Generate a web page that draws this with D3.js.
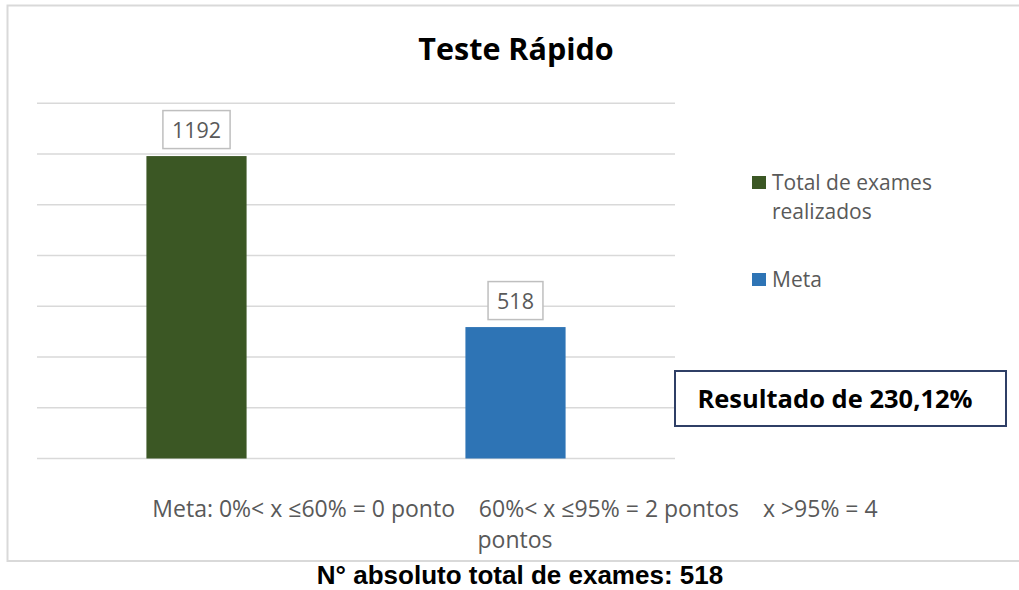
<!DOCTYPE html>
<html><head><meta charset="utf-8">
<script src="https://cdn.jsdelivr.net/npm/d3@7"></script>
<style>body{margin:0;background:#fff;} svg{display:block;}</style>
</head><body>
<script>
const categories = ["Total de exames realizados", "Meta"];
const values = [1192, 518];
const colors = ["#3b5724", "#2e74b5"];
const yTicks = [0, 200, 400, 600, 800, 1000, 1200, 1400];
const titleText = "Teste Rápido";
const xAxisLines = ["Meta: 0%< x \u226460% = 0 ponto    60%< x \u226495% = 2 pontos    x >95% = 4", "pontos"];
const resultText = "Resultado de 230,12%";
const footerText = "N\u00b0 absoluto total de exames: 518";
const legendLines = [["Total de exames", "realizados"], ["Meta"]];

const W = 1019, H = 590;
const svg = d3.select("body").append("svg").attr("width", W).attr("height", H);
const font = "'Open Sans', sans-serif";

// outer frame
svg.append("rect").attr("x", 7.5).attr("y", 5.5).attr("width", 1030).attr("height", 555.5)
  .attr("fill", "#fff").attr("stroke", "#d9d9d9").attr("stroke-width", 2);

const x = d3.scaleBand().domain(categories).range([37, 675]).paddingInner(0.686).paddingOuter(0.343);
const y = d3.scaleLinear().domain([0, 1400]).range([458.5, 103.3]);

// gridlines
svg.append("g").selectAll("line").data(yTicks).join("line")
  .attr("x1", 37).attr("x2", 675)
  .attr("y1", d => y(d)).attr("y2", d => y(d))
  .attr("stroke", "#d9d9d9").attr("stroke-width", 1.5);

// bars
svg.append("g").selectAll("rect").data(values).join("rect")
  .attr("x", (d, i) => x(categories[i]))
  .attr("width", x.bandwidth())
  .attr("y", d => y(d))
  .attr("height", d => y(0) - y(d))
  .attr("fill", (d, i) => colors[i]);

// data labels
values.forEach((v, i) => {
  const cx = x(categories[i]) + x.bandwidth() / 2;
  const g = svg.append("g");
  const t = g.append("text").attr("x", cx).attr("y", y(v) - 18.5)
    .attr("text-anchor", "middle").attr("font-family", font).attr("font-size", 21.5)
    .attr("fill", "#595959").text(v);
  const bb = t.node().getBBox();
  g.insert("rect", "text").attr("x", cx - (bb.width + 18) / 2).attr("y", y(v) - 45.5)
    .attr("width", bb.width + 18).attr("height", 38)
    .attr("fill", "#fff").attr("stroke", "#bfbfbf").attr("stroke-width", 1.5);
});

// title
svg.append("text").attr("x", 516).attr("y", 60).attr("text-anchor", "middle")
  .attr("font-family", font).attr("font-weight", "bold").attr("font-size", 30.5)
  .attr("fill", "#000").text(titleText);

// legend
const legY = [176, 273];
legendLines.forEach((lines, i) => {
  svg.append("rect").attr("x", 752).attr("y", legY[i]).attr("width", 14).attr("height", 13)
    .attr("fill", colors[i]);
  lines.forEach((ln, j) => {
    svg.append("text").attr("x", 772).attr("y", legY[i] + 13.5 + j * 29)
      .attr("font-family", font).attr("font-size", 21).attr("fill", "#595959").text(ln);
  });
});

// x axis title
xAxisLines.forEach((ln, j) => {
  svg.append("text").attr("x", 515).attr("y", 517 + j * 31).attr("text-anchor", "middle")
    .attr("font-family", font).attr("font-size", 23).attr("fill", "#595959")
    .attr("xml:space", "preserve").style("white-space", "pre").text(ln);
});

// result box
svg.append("rect").attr("x", 675).attr("y", 371).attr("width", 331).attr("height", 55)
  .attr("fill", "#fff").attr("stroke", "#2f3f66").attr("stroke-width", 2);
svg.append("text").attr("x", 835).attr("y", 408).attr("text-anchor", "middle")
  .attr("font-family", font).attr("font-weight", "bold").attr("font-size", 25.5)
  .attr("fill", "#000").text(resultText);

// footer
svg.append("text").attr("x", 520).attr("y", 584).attr("text-anchor", "middle")
  .attr("font-family", "'Liberation Sans', Arial, sans-serif").attr("font-weight", "bold").attr("font-size", 26)
  .attr("fill", "#000").text(footerText);
</script>
</body></html>
